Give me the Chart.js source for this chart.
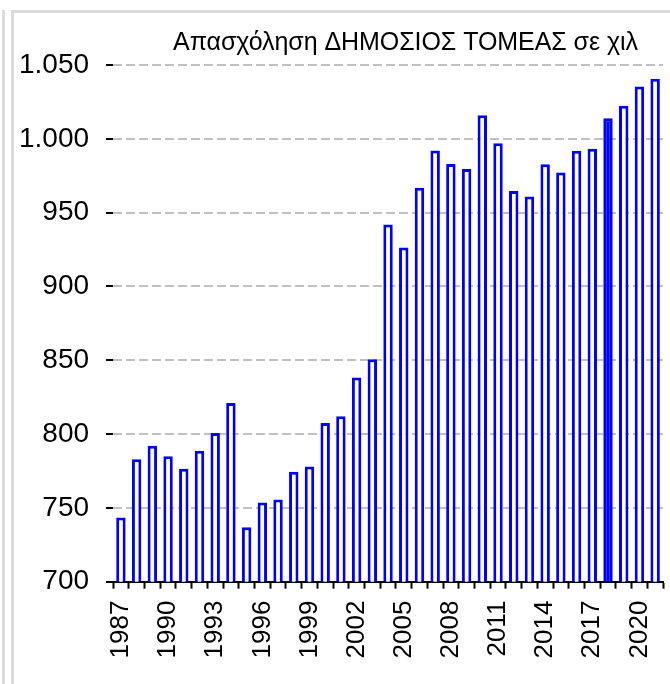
<!DOCTYPE html>
<html>
<head>
<meta charset="utf-8">
<script src="https://cdn.jsdelivr.net/npm/chart.js@4/dist/chart.umd.min.js"></script>
<style>
html,body{margin:0;padding:0;background:#fff;}
canvas{display:block;}
</style>
</head>
<body>
<canvas id="c" width="670" height="684"></canvas>
<script>
const years = ['1987','1988','1989','1990','1991','1992','1993','1994','1995','1996','1997','1998','1999','2000','2001','2002','2003','2004','2005','2006','2007','2008','2009','2010','2011','2012','2013','2014','2015','2016','2017','2018','2019','2020','2021'];
const employment = [743.5,783,792,785,776.5,788.6,800.7,821,736.8,753.6,755.6,774.5,778,807.4,812,838.3,850.7,942,926.4,966.8,992.1,983,979.5,1015.9,997,964.7,961,982.8,977.2,991.9,993.3,1014,1022.4,1035.5,1040.7];
const yMin = 700;
const yMax = 1050;
const yStep = 50;
const titleText = 'Απασχόληση ΔΗΜΟΣΙΟΣ ΤΟΜΕΑΣ σε χιλ';
const filledYear = '2018';

function fmt(v){
  const s = String(Math.round(v));
  return s.length > 3 ? s.slice(0, s.length-3) + '.' + s.slice(-3) : s;
}

const framePlugin = {
  id: 'frame',
  beforeDraw(chart){
    const ctx = chart.ctx;
    ctx.save();
    ctx.fillStyle = '#dadada';
    ctx.fillRect(2, 10, 3, chart.height);
    ctx.fillRect(11, 10, 3, chart.height);
    ctx.fillRect(11, 10, chart.width, 3);
    ctx.restore();
  }
};

const titlePlugin = {
  id: 'ctitle',
  afterDraw(chart){
    const ctx = chart.ctx;
    const a = chart.chartArea;
    ctx.save();
    ctx.font = '25px "Liberation Sans", Arial, sans-serif';
    ctx.fillStyle = '#000';
    ctx.textBaseline = 'alphabetic';
    ctx.textAlign = 'left';
    const target = 465;
    const w = ctx.measureText(titleText).width;
    const sp = (target - w) / (titleText.length - 1);
    if ('letterSpacing' in ctx) ctx.letterSpacing = sp.toFixed(2) + 'px';
    ctx.fillText(titleText, a.left + 60, a.top - 15);
    ctx.restore();
  }
};

new Chart(document.getElementById('c'), {
  type: 'bar',
  data: {
    labels: years,
    datasets: [{
      data: employment,
      backgroundColor: years.map(y => y === filledYear ? '#0000ff' : '#ffffff'),
      borderColor: '#0000ff',
      borderWidth: 3,
      borderSkipped: 'bottom',
      barPercentage: 0.6,
      categoryPercentage: 1.0
    }]
  },
  options: {
    responsive: false,
    animation: false,
    devicePixelRatio: 1,
    layout: { padding: { left: 2, right: 7, top: 65, bottom: 13.5 } },
    plugins: { legend: { display: false }, title: { display: false }, tooltip: { enabled: false } },
    scales: {
      x: {
        grid: { offset: true, drawOnChartArea: false, tickColor: '#000', tickLength: 7, tickWidth: 2 },
        border: { display: true, color: '#000', width: 2 },
        ticks: {
          autoSkip: false, maxRotation: 90, minRotation: 90, padding: 12, color: '#000',
          font: { family: '"Liberation Sans", Arial, sans-serif', size: 26, lineHeight: 0.1 },
          callback: (v, i) => (i % 3 === 0 ? years[i] : '')
        }
      },
      y: {
        min: yMin, max: yMax,
        ticks: {
          stepSize: yStep, padding: 17, color: '#000',
          font: { family: '"Liberation Sans", Arial, sans-serif', size: 28 },
          callback: v => fmt(v)
        },
        grid: { color: '#c0c0c0', lineWidth: 2, tickColor: '#000', tickLength: 7, tickWidth: 2, tickBorderDash: [] },
        border: { display: false, dash: [9, 4] }
      }
    }
  },
  plugins: [framePlugin, titlePlugin]
});
</script>
</body>
</html>
